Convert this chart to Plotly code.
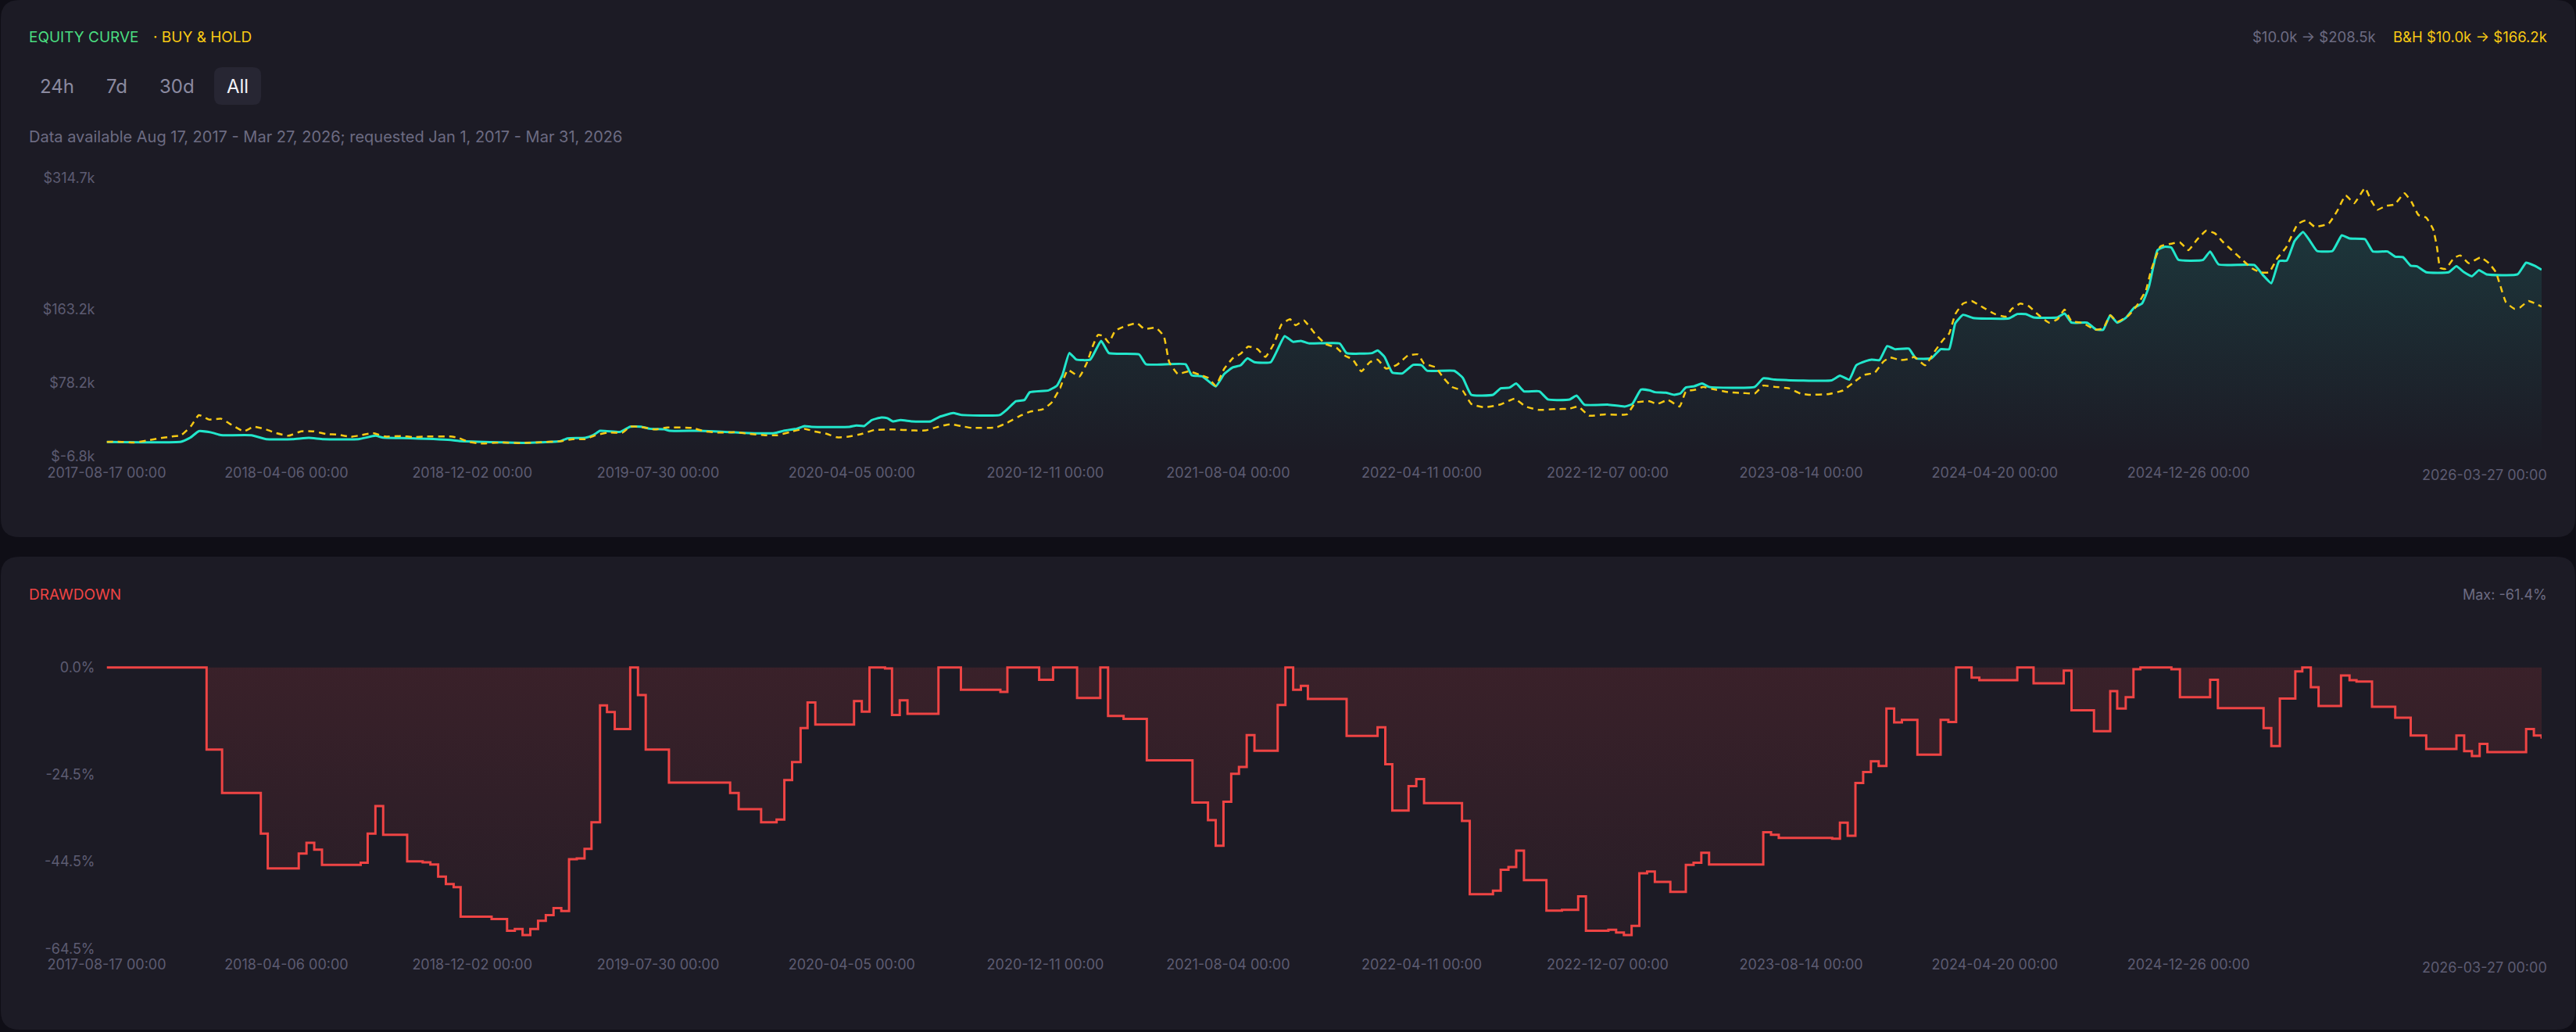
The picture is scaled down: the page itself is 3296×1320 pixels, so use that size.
import pandas as pd
import plotly.graph_objects as go

W, H = 3296, 1320

START = pd.Timestamp("2017-08-17")
END = pd.Timestamp("2026-03-27")

# strategy equity ($k), x = days since START
EQ_DAY = [0, 96, 108, 119, 135, 145, 150, 187, 206, 240, 261, 280, 325, 347, 357, 380, 444, 457,
          510, 540, 560, 586, 595, 618, 628, 637, 663, 676, 690, 701, 720, 727, 765, 804, 830, 862,
          875, 891, 901, 910, 959, 968, 978, 988, 1000, 1008, 1015, 1025, 1040, 1064, 1075, 1093,
          1103, 1153, 1163, 1174, 1185, 1192, 1216, 1227, 1234, 1243, 1252, 1270, 1284, 1294, 1333,
          1342, 1393, 1401, 1415, 1432, 1443, 1454, 1464, 1473, 1482, 1503, 1521, 1532, 1542, 1553,
          1592, 1601, 1634, 1641, 1650, 1660, 1673, 1687, 1698, 1705, 1740, 1751, 1762, 1790, 1800,
          1811, 1820, 1830, 1850, 1861, 1889, 1898, 1908, 1939, 1960, 1970, 1981, 1992, 1999, 2013,
          2024, 2032, 2039, 2050, 2060, 2069, 2128, 2139, 2154, 2227, 2238, 2250, 2259, 2272, 2279,
          2289, 2299, 2309, 2327, 2336, 2356, 2368, 2379, 2387, 2397, 2410, 2456, 2467, 2478, 2488,
          2519, 2528, 2537, 2557, 2569, 2578, 2587, 2596, 2607, 2618, 2628, 2637, 2648, 2657, 2666,
          2675, 2707, 2716, 2727, 2773, 2784, 2795, 2805, 2815, 2825, 2836, 2845, 2854, 2874, 2886,
          2896, 2916, 2926, 2945, 2955, 2965, 2975, 2983, 2995, 3024, 3034, 3044, 3054, 3063, 3073,
          3113, 3124, 3135, 3144]
EQ_VAL = [10.0, 10.3, 15.0, 22.5, 21.0, 18.5, 17.8, 17.8, 13.3, 13.3, 14.8, 13.3, 13.3, 17.2, 15.0,
          14.6, 12.4, 11.0, 9.6, 9.0, 9.6, 11.0, 14.2, 14.8, 17.8, 22.9, 21.7, 27.7, 27.7, 25.3, 24.7,
          22.9, 22.9, 21.4, 20.2, 20.2, 23.2, 25.3, 28.3, 27.5, 27.5, 29.0, 28.4, 35.3, 38.3, 37.5,
          33.8, 35.3, 33.8, 33.8, 38.9, 43.4, 41.3, 41.0, 47.9, 57.0, 58.4, 67.4, 69.5, 75.0, 87.0,
          112.5, 105.0, 105.0, 126.6, 112.5, 111.0, 99.6, 99.6, 87.0, 85.5, 74.1, 88.5, 96.0, 98.4,
          106.5, 102.0, 102.0, 132.0, 125.4, 126.6, 123.6, 123.6, 112.5, 112.5, 115.5, 108.0, 90.0,
          89.1, 99.0, 98.4, 92.1, 92.1, 84.0, 64.4, 64.4, 72.0, 72.6, 77.4, 68.4, 68.4, 59.0, 59.0,
          63.5, 53.0, 53.0, 50.9, 53.9, 70.4, 69.6, 67.4, 66.9, 64.4, 66.0, 72.8, 74.3, 77.4, 73.5,
          73.5, 83.4, 81.9, 81.0, 86.4, 81.9, 98.4, 103.5, 105.0, 104.4, 120.6, 117.0, 117.6, 106.5,
          106.5, 117.0, 117.0, 147.0, 156.6, 153.0, 152.4, 157.5, 157.5, 153.6, 153.6, 158.1, 147.6,
          147.6, 139.5, 139.5, 156.0, 147.6, 153.0, 165.0, 169.5, 189.1, 231.1, 235.0, 234.1, 220.0,
          220.0, 229.6, 214.6, 214.0, 202.6, 193.0, 218.5, 219.1, 241.6, 252.1, 241.6, 230.2, 230.2,
          248.2, 244.6, 243.7, 229.6, 229.6, 223.6, 223.0, 213.1, 212.5, 205.6, 205.6, 212.5, 205.6,
          201.1, 208.0, 203.2, 203.2, 216.7, 213.1, 208.5]

# buy & hold ($k)
BH_DAY = [0, 15, 35, 51, 67, 84, 96, 109, 119, 132, 148, 161, 177, 190, 206, 219, 235, 251, 267,
          283, 299, 315, 328, 344, 360, 380, 396, 412, 444, 454, 467, 483, 508, 534, 560, 586, 602,
          618, 631, 647, 666, 676, 689, 708, 724, 756, 772, 792, 811, 830, 850, 866, 882, 901, 914,
          930, 943, 959, 975, 991, 1015, 1043, 1057, 1071, 1089, 1103, 1117, 1149, 1163, 1178, 1192,
          1209, 1220, 1231, 1241, 1256, 1266, 1273, 1280, 1287, 1294, 1302, 1312, 1330, 1340, 1355,
          1365, 1372, 1383, 1397, 1411, 1422, 1432, 1443, 1454, 1464, 1474, 1486, 1496, 1507, 1517,
          1528, 1535, 1546, 1560, 1574, 1588, 1599, 1609, 1620, 1631, 1641, 1652, 1666, 1680, 1693,
          1701, 1716, 1726, 1737, 1751, 1762, 1779, 1800, 1818, 1832, 1850, 1871, 1889, 1900, 1914,
          1935, 1963, 1974, 1992, 2002, 2016, 2031, 2039, 2052, 2061, 2072, 2095, 2113, 2128, 2139,
          2154, 2172, 2187, 2198, 2224, 2242, 2257, 2268, 2283, 2294, 2303, 2316, 2327, 2334, 2348,
          2360, 2371, 2379, 2387, 2397, 2408, 2423, 2438, 2452, 2460, 2471, 2482, 2493, 2508, 2519,
          2528, 2537, 2552, 2567, 2578, 2587, 2596, 2611, 2622, 2633, 2640, 2652, 2666, 2677, 2688,
          2699, 2711, 2722, 2733, 2744, 2755, 2770, 2781, 2792, 2803, 2814, 2829, 2840, 2851, 2869,
          2880, 2891, 2902, 2916, 2924, 2932, 2943, 2954, 2967, 2976, 2985, 2995, 3004, 3009, 3013,
          3020, 3031, 3039, 3050, 3065, 3076, 3085, 3090, 3098, 3109, 3116, 3127, 3138, 3144]
BH_VAL = [10.0, 10.4, 9.4, 11.5, 14.2, 16.3, 17.8, 28.4, 41.0, 35.9, 36.8, 29.9, 22.3, 27.7, 24.4,
          20.2, 17.2, 22.3, 22.3, 19.3, 18.4, 16.0, 17.8, 20.2, 16.3, 16.9, 15.7, 16.3, 16.3, 14.8,
          10.3, 8.2, 9.4, 8.8, 9.7, 10.9, 13.3, 13.3, 17.8, 20.8, 20.8, 27.7, 27.5, 24.4, 26.8, 26.2,
          22.3, 20.8, 21.4, 19.3, 17.8, 17.8, 21.4, 25.3, 22.3, 19.3, 15.4, 16.3, 19.3, 23.8, 24.5,
          23.3, 23.3, 26.9, 30.5, 28.4, 26.3, 26.9, 32.3, 39.5, 44.9, 47.9, 55.4, 72.0, 93.0, 85.5,
          102.0, 120.0, 133.5, 132.0, 124.5, 138.0, 142.5, 147.0, 140.4, 141.6, 132.0, 102.0, 88.5,
          91.5, 87.6, 84.0, 75.0, 94.5, 106.5, 111.6, 120.0, 117.0, 108.0, 123.0, 145.5, 151.5, 144.6,
          150.0, 135.0, 123.0, 118.5, 109.5, 105.0, 91.5, 102.0, 105.0, 94.5, 99.0, 109.5, 111.0,
          100.5, 96.0, 84.0, 73.4, 69.0, 53.9, 50.0, 53.3, 60.0, 50.9, 47.0, 47.9, 48.5, 50.9, 40.4,
          41.9, 41.9, 55.4, 56.9, 53.9, 58.4, 50.9, 68.0, 70.4, 73.5, 71.4, 67.4, 66.5, 65.9, 75.0,
          73.5, 71.9, 65.9, 64.4, 65.3, 69.5, 79.5, 87.0, 90.0, 102.6, 107.4, 104.4, 105.6, 108.0,
          98.4, 114.0, 127.5, 135.0, 157.5, 169.5, 172.5, 165.0, 157.5, 154.5, 163.5, 169.5, 166.5,
          157.5, 147.6, 151.5, 162.6, 149.4, 147.0, 139.5, 141.0, 156.0, 148.5, 156.0, 168.0, 184.6,
          208.6, 235.6, 238.6, 240.1, 231.1, 243.1, 253.6, 250.6, 240.1, 231.1, 222.1, 210.1, 205.6,
          205.6, 222.1, 234.1, 261.1, 265.6, 258.1, 261.7, 276.2, 294.2, 285.2, 302.6, 288.2, 277.7,
          282.2, 283.7, 296.6, 286.7, 271.6, 268.6, 255.1, 234.1, 210.7, 209.5, 222.1, 225.1, 216.1,
          222.7, 216.1, 205.6, 192.1, 171.0, 163.5, 165.0, 172.5, 168.6, 166.2]

# drawdown (%), step changes
DD_DAY = [0, 129, 149, 199, 208, 248, 258, 268, 278, 328, 337, 347, 357, 388, 408, 418, 428, 438,
          448, 457, 497, 517, 527, 537, 547, 557, 567, 577, 587, 597, 607, 617, 626, 637, 646, 656,
          676, 686, 696, 726, 805, 816, 845, 865, 875, 885, 896, 905, 915, 965, 975, 985, 1005, 1014,
          1024, 1034, 1074, 1103, 1154, 1163, 1204, 1222, 1253, 1283, 1293, 1313, 1343, 1402, 1422,
          1432, 1442, 1452, 1462, 1472, 1482, 1512, 1522, 1532, 1542, 1551, 1601, 1641, 1651, 1660,
          1681, 1691, 1701, 1750, 1760, 1790, 1800, 1810, 1820, 1830, 1859, 1879, 1900, 1910, 1939,
          1949, 1959, 1969, 1979, 1989, 1999, 2019, 2039, 2049, 2059, 2069, 2139, 2149, 2159, 2228,
          2238, 2248, 2258, 2268, 2278, 2288, 2298, 2308, 2318, 2338, 2368, 2378, 2388, 2408, 2418,
          2467, 2488, 2527, 2537, 2566, 2587, 2596, 2607, 2617, 2626, 2666, 2677, 2716, 2726, 2785,
          2795, 2806, 2826, 2835, 2846, 2856, 2885, 2896, 2905, 2925, 2955, 2975, 2995, 3034, 3044,
          3054, 3064, 3074, 3124, 3134, 3144]
DD_VAL = [0.0, -18.8, -28.8, -38.1, -46.1, -42.7, -40.2, -41.8, -45.3, -44.8, -38.1, -31.8, -38.4,
          -44.5, -44.7, -45.2, -48.0, -49.7, -50.4, -57.2, -57.7, -60.4, -60.0, -61.4, -60.0, -58.1,
          -56.8, -55.2, -55.9, -44.0, -43.8, -41.6, -35.5, -8.7, -10.2, -14.1, 0.0, -6.3, -18.8,
          -26.4, -28.8, -32.5, -35.5, -34.9, -25.8, -21.7, -13.9, -8.0, -13.1, -7.7, -10.1, 0.0, -0.2,
          -10.9, -7.5, -10.6, 0.0, -5.1, -5.6, 0.0, -2.8, 0.0, -7.0, 0.0, -11.1, -11.8, -21.3, -31.0,
          -35.0, -40.9, -30.8, -24.4, -22.8, -15.5, -19.1, -8.6, 0.0, -5.1, -4.2, -7.2, -15.7, -13.7,
          -22.2, -32.8, -27.2, -25.6, -31.1, -35.2, -52.0, -51.2, -46.4, -45.8, -42.0, -48.8, -55.8,
          -55.6, -52.5, -60.4, -60.2, -60.8, -61.4, -59.3, -47.2, -46.8, -49.2, -51.5, -45.3, -44.8,
          -42.5, -45.2, -37.8, -38.4, -39.1, -39.3, -35.6, -38.6, -26.5, -24.0, -21.5, -22.6, -9.4,
          -12.6, -12.0, -20.0, -12.0, -12.5, 0.0, -2.3, -2.9, 0.0, -3.6, -0.7, -9.8, -14.6, -5.4,
          -9.4, -6.8, -0.4, 0.0, -0.4, -6.8, -2.8, -9.3, -13.9, -18.0, -7.1, -0.9, 0.0, -4.5, -8.8,
          -1.8, -2.9, -3.2, -9.0, -11.5, -15.6, -18.7, -15.6, -19.2, -20.3, -17.5, -19.4, -14.1,
          -15.6, -16.3]

X_TICKS = ["2017-08-17", "2018-04-06", "2018-12-02", "2019-07-30", "2020-04-05", "2020-12-11",
           "2021-08-04", "2022-04-11", "2022-12-07", "2023-08-14", "2024-04-20", "2024-12-26"]
X_LAST = "2026-03-27"
EQ_TICKS = [-6.8, 78.2, 163.2, 314.7]
EQ_TICK_TEXT = ["$-6.8k", "$78.2k", "$163.2k", "$314.7k"]
DD_TICKS = [0, -24.5, -44.5, -64.5]
DD_TICK_TEXT = ["0.0%", "-24.5%", "-44.5%", "-64.5%"]

PAGE = "#0f0e16"
CARD = "#1c1b25"
CYAN = "#22e6cb"
YELLOW = "#f7c914"
RED = "#ef4444"
GREEN = "#4ade80"
TICK = "#5d5c72"
MUTED = "#6c6b82"
FONT = "Inter"


def px(x):
    return x / W


def py(y):
    return 1 - y / H


def rounded(x0, y0, x1, y1, r):
    # rounded rectangle in pixel coords -> paper path
    return (f"M {px(x0 + r)},{py(y0)} L {px(x1 - r)},{py(y0)} Q {px(x1)},{py(y0)} {px(x1)},{py(y0 + r)} "
            f"L {px(x1)},{py(y1 - r)} Q {px(x1)},{py(y1)} {px(x1 - r)},{py(y1)} "
            f"L {px(x0 + r)},{py(y1)} Q {px(x0)},{py(y1)} {px(x0)},{py(y1 - r)} "
            f"L {px(x0)},{py(y0 + r)} Q {px(x0)},{py(y0)} {px(x0 + r)},{py(y0)} Z")


def dates(days):
    return START + pd.to_timedelta(days, unit="D")


fig = go.Figure()

fig.add_trace(go.Scatter(
    x=dates(EQ_DAY), y=EQ_VAL, mode="lines", name="Equity",
    line=dict(color=CYAN, width=3, shape="spline", smoothing=0.4),
    fill="tozeroy",
    fillgradient=dict(type="vertical", start=-6.8, stop=250,
                      colorscale=[[0, "rgba(34,230,203,0.0)"], [1, "rgba(34,230,203,0.13)"]]),
    xaxis="x", yaxis="y", hoverinfo="skip",
))
fig.add_trace(go.Scatter(
    x=dates(BH_DAY), y=BH_VAL, mode="lines", name="Buy & Hold",
    line=dict(color=YELLOW, width=2.5, dash="8px,6px", shape="spline", smoothing=0.4),
    xaxis="x", yaxis="y", hoverinfo="skip",
))
fig.add_trace(go.Scatter(
    x=dates(DD_DAY), y=DD_VAL, mode="lines", name="Drawdown",
    line=dict(color=RED, width=3, shape="hv"),
    fill="tozeroy",
    fillgradient=dict(type="vertical", start=-64.5, stop=0,
                      colorscale=[[0, "rgba(239,68,68,0.05)"], [1, "rgba(239,68,68,0.14)"]]),
    xaxis="x2", yaxis="y2", hoverinfo="skip",
))

xdom = [px(136.5), px(3252)]
xcommon = dict(
    type="date", domain=xdom, range=[START, END], automargin=False,
    tickvals=X_TICKS, ticktext=[d + " 00:00" for d in X_TICKS],
    showgrid=False, zeroline=False, showline=False, ticks="",
    ticklabelstandoff=8, tickfont=dict(family=FONT, size=18, color=TICK),
)
ycommon = dict(showgrid=False, zeroline=False, showline=False, ticks="", automargin=False,
               ticklabelstandoff=14, tickfont=dict(family=FONT, size=18, color=TICK))

shapes = [
    dict(type="path", path=rounded(1, 0, 3295, 687, 24), xref="paper", yref="paper",
         fillcolor=CARD, line=dict(width=0), layer="below"),
    dict(type="path", path=rounded(1, 712, 3295, 1317, 24), xref="paper", yref="paper",
         fillcolor=CARD, line=dict(width=0), layer="below"),
    dict(type="path", path=rounded(274, 86, 334, 134, 10), xref="paper", yref="paper",
         fillcolor="#272633", line=dict(width=0), layer="below"),
]


def label(text, x, y, color, size=18, anchor="left"):
    return dict(text=text, x=px(x), y=py(y), xref="paper", yref="paper", xanchor=anchor,
                yanchor="middle", showarrow=False, font=dict(family=FONT, size=size, color=color))


annotations = [
    label("EQUITY CURVE", 35, 47, GREEN, 19),
    label("· BUY &amp; HOLD", 194, 47, YELLOW, 19),
    label("$10.0k → $208.5k", 3042, 47, MUTED, 18.5, "right"),
    label("B&amp;H $10.0k → $166.2k", 3261, 47, YELLOW, 18.5, "right"),
    label("24h", 73, 110, "#8b8aa0", 24, "center"),
    label("7d", 149, 110, "#8b8aa0", 24, "center"),
    label("30d", 226, 110, "#8b8aa0", 24, "center"),
    label("All", 304, 110, "#f2f2f7", 24, "center"),
    label("Data available Aug 17, 2017 - Mar 27, 2026; requested Jan 1, 2017 - Mar 31, 2026",
          35, 175, MUTED, 20),
    label("DRAWDOWN", 35, 760, RED, 19),
    label("Max: -61.4%", 3261, 760, MUTED, 18, "right"),
    # last date label is pulled inside the card, like the original
    label(X_LAST + " 00:00", 3261, 607, TICK, 18, "right"),
    label(X_LAST + " 00:00", 3261, 1237, TICK, 18, "right"),
]

fig.update_layout(
    width=W, height=H, margin=dict(l=0, r=0, t=0, b=0, pad=0, autoexpand=False),
    paper_bgcolor=PAGE, plot_bgcolor="rgba(0,0,0,0)",
    showlegend=False, hovermode=False,
    font=dict(family=FONT),
    xaxis=dict(anchor="y", **xcommon),
    yaxis=dict(anchor="x", domain=[py(584.0), py(227.2)], range=[-6.8, 314.7],
               tickvals=EQ_TICKS, ticktext=EQ_TICK_TEXT, **ycommon),
    xaxis2=dict(anchor="y2", **xcommon),
    yaxis2=dict(anchor="x2", domain=[py(1213.3), py(849.4)], range=[-64.5, 0.8],
                tickvals=DD_TICKS, ticktext=DD_TICK_TEXT, **ycommon),
    shapes=shapes,
    annotations=annotations,
)

fig.write_html("out.html", config={"displayModeBar": False},
               post_script="document.body.style.margin='0';document.body.style.background='%s';" % PAGE)
